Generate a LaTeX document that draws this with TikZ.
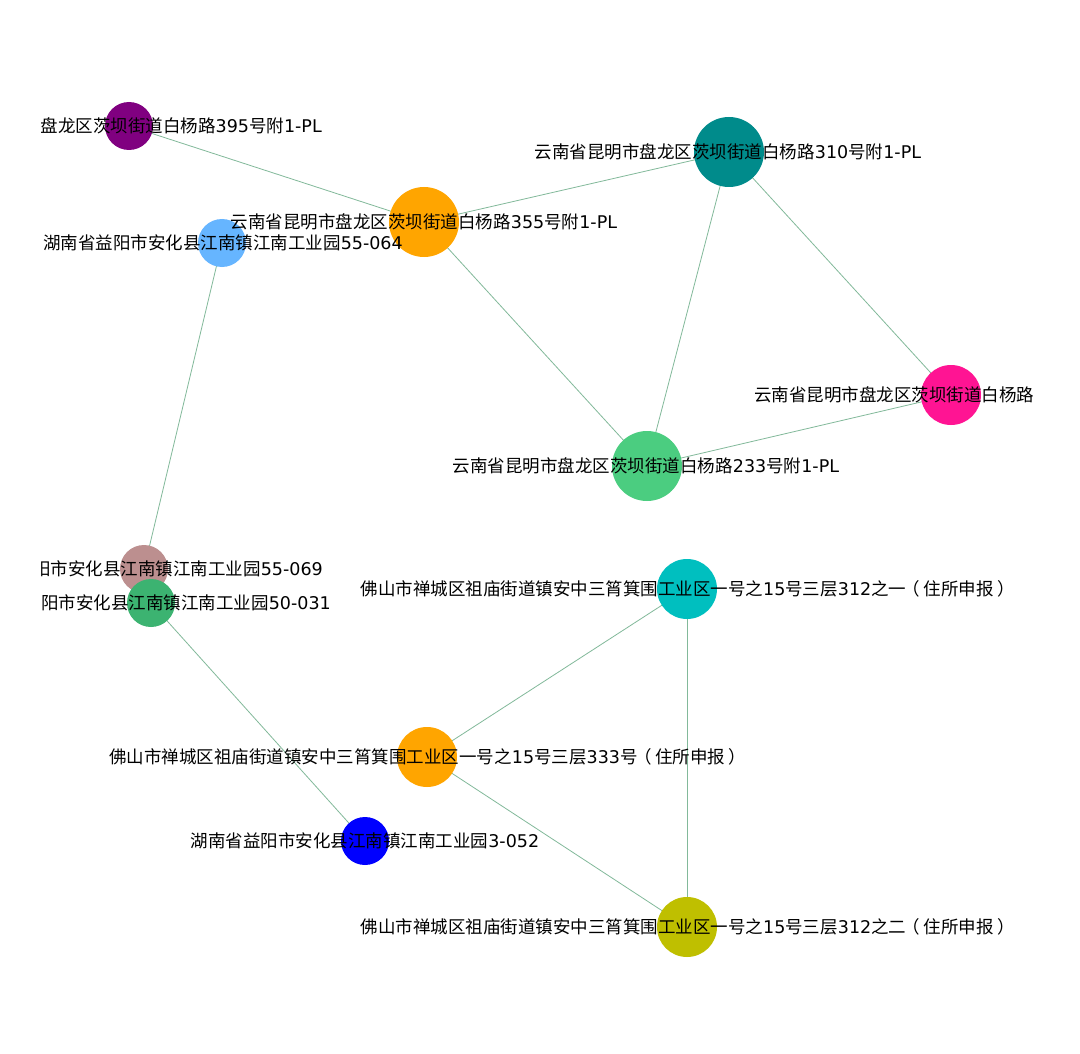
\documentclass[tikz,border=0pt]{standalone}
\usepackage{fontspec}
\setmainfont{DejaVu Sans}
\newfontfamily\cjkf{Noto Sans CJK SC}
\newcommand{\C}[1]{{\cjkf #1}}
\newcommand{\FL}{\makebox[1em][l]{\hspace{-0.2em}\C{（}}}
\newcommand{\FR}{\makebox[1em][l]{\hspace{0.2em}\C{）}}}
\definecolor{edgec}{HTML}{82B99A}
\definecolor{cPurple}{HTML}{800080}
\definecolor{cLblue}{HTML}{66B5FF}
\definecolor{cOrange}{HTML}{FFA500}
\definecolor{cTeal}{HTML}{008B8B}
\definecolor{cPink}{HTML}{FF1493}
\definecolor{cGreen}{HTML}{4BCD80}
\definecolor{cRosy}{HTML}{BC8F8F}
\definecolor{cMsg}{HTML}{3CB371}
\definecolor{cCyan}{HTML}{00BFBF}
\definecolor{cBlue}{HTML}{0000FF}
\definecolor{cOlive}{HTML}{BFBF00}
\tikzset{
  dot/.style={circle, inner sep=0pt, minimum size=#1},
  lbl/.style={inner sep=0pt, font=\fontsize{17.5}{20}\selectfont, text=black},
  edge/.style={draw=edgec, line width=0.8pt}
}
\begin{document}
\begin{tikzpicture}[x=1pt,y=-1pt]
\useasboundingbox[fill=white] (0,0) rectangle (1080,1054);
% node positions
\coordinate (p395) at (129,126);
\coordinate (p064) at (222,243);
\coordinate (p355) at (424,222);
\coordinate (p310) at (729,152);
\coordinate (ppink) at (951,395);
\coordinate (p233) at (647,466);
\coordinate (p069) at (144,569);
\coordinate (p031) at (151,603);
\coordinate (pa) at (687,589);
\coordinate (p333) at (427,757);
\coordinate (p052) at (365,841);
\coordinate (pb) at (687,927);
% edges
\draw[edge] (p395) -- (p355);
\draw[edge] (p355) -- (p310);
\draw[edge] (p355) -- (p233);
\draw[edge] (p310) -- (p233);
\draw[edge] (p310) -- (ppink);
\draw[edge] (ppink) -- (p233);
\draw[edge] (p064) -- (p069);
\draw[edge] (p031) -- (p052);
\draw[edge] (pa) -- (p333);
\draw[edge] (pa) -- (pb);
\draw[edge] (p333) -- (pb);
% circles
\node[dot=48pt, fill=cPurple] (n395) at (p395) {};
\node[dot=48pt, fill=cLblue] (n064) at (p064) {};
\node[dot=70pt, fill=cOrange] (n355) at (p355) {};
\node[dot=70pt, fill=cTeal] (n310) at (p310) {};
\node[dot=60pt, fill=cPink] (npink) at (ppink) {};
\node[dot=70pt, fill=cGreen] (n233) at (p233) {};
\node[dot=48pt, fill=cRosy] (n069) at (p069) {};
\node[dot=48pt, fill=cMsg] (n031) at (p031) {};
\node[dot=60pt, fill=cCyan] (na) at (pa) {};
\node[dot=60pt, fill=cOrange] (n333) at (p333) {};
\node[dot=48pt, fill=cBlue] (n052) at (p052) {};
\node[dot=60pt, fill=cOlive] (nb) at (pb) {};
% labels
\begin{scope}
\clip (41.5,0) rectangle (1039,1054);
\node[lbl, anchor=east] (l395) at (322,126) {\C{盘龙区茨坝街道白杨路}395\C{号附}1-PL};
\node[lbl] (l064) at (223,243) {\C{湖南省益阳市安化县江南镇江南工业园}55-064};
\node[lbl] (l355) at (424,222) {\C{云南省昆明市盘龙区茨坝街道白杨路}355\C{号附}1-PL};
\node[lbl] (l310) at (728,152) {\C{云南省昆明市盘龙区茨坝街道白杨路}310\C{号附}1-PL};
\node[lbl, anchor=west] (lpink) at (754,395) {\C{云南省昆明市盘龙区茨坝街道白杨路}};
\node[lbl] (l233) at (646,466) {\C{云南省昆明市盘龙区茨坝街道白杨路}233\C{号附}1-PL};
\node[lbl, anchor=east] (l069) at (323,569) {\C{阳市安化县江南镇江南工业园}55-069};
\node[lbl, anchor=east] (l031) at (331,603) {\C{阳市安化县江南镇江南工业园}50-031};
\node[lbl] (la) at (686,589) {\C{佛山市禅城区祖庙街道镇安中三筲箕围工业区一号之}15\C{号三层}312\C{之一}\FL\C{住所申报}\FR};
\node[lbl] (l333) at (426,757) {\C{佛山市禅城区祖庙街道镇安中三筲箕围工业区一号之}15\C{号三层}333\C{号}\FL\C{住所申报}\FR};
\node[lbl] (l052) at (365,841) {\C{湖南省益阳市安化县江南镇江南工业园}3-052};
\node[lbl] (lb) at (686,927) {\C{佛山市禅城区祖庙街道镇安中三筲箕围工业区一号之}15\C{号三层}312\C{之二}\FL\C{住所申报}\FR};
\end{scope}
\end{tikzpicture}
\end{document}
